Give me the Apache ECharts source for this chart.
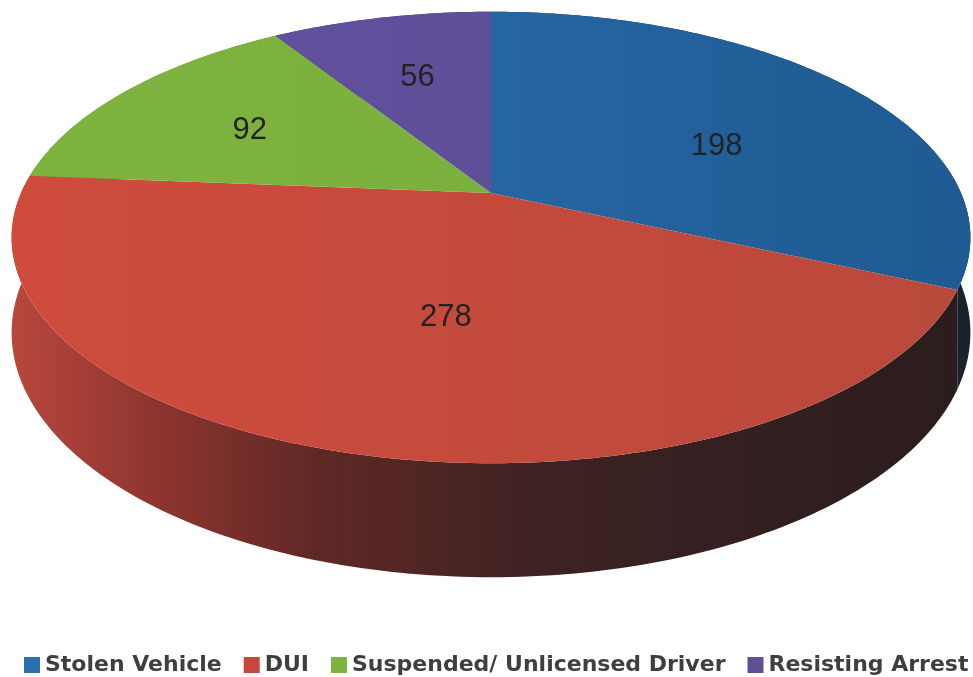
<!doctype html>
<html>
<head>
<meta charset="UTF-8">
<title>Arrests</title>
<script src="https://cdn.jsdelivr.net/npm/echarts@6/dist/echarts.min.js"></script>
<style>
  html, body { margin: 0; padding: 0; background: #fff; }
  #main { width: 973px; height: 677px; }
</style>
</head>
<body>
<div id="main"></div>
<script>
// data
var categories = ['Stolen Vehicle', 'DUI', 'Suspended/ Unlicensed Driver', 'Resisting Arrest'];
var counts = [198, 278, 92, 56];

// colours
var legendColors = ['#2C6FAE', '#C9463C', '#7DB33F', '#5F5096'];
var topColors = [
  ['#2B71B1', '#1F5A93'],
  ['#CF4C3D', '#B8493B'],
  ['#7EB43E', '#76AC3A'],
  ['#6352A0', '#5A4A90']
];
var sideColors = [
  ['#283548', '#1C222C'],
  ['#B8473C', '#2A1C1D'],
  ['#5E8A30', '#3E5A22'],
  ['#4A3E7A', '#332A55']
];

// pie layout (perspective tilt)
var CX = 491, CY = 193;     // centre point of the top face
var S = 470, T = 217;       // horizontal / depth radius
var A = 0.197;              // perspective factor
var H = 91.5;               // thickness

var total = counts.reduce(function (a, b) { return a + b; }, 0);
var startAngles = [];
var acc = 0;
counts.forEach(function (c) {
  startAngles.push(acc / total * Math.PI * 2);
  acc += c;
});

function project(theta, r, h) {
  var u = r * Math.sin(theta), v = r * Math.cos(theta);
  var d = 1 + A * v;
  return [CX + S * u / d, CY + (-T * v + h) / d];
}

function arc(a0, a1, h) {
  var pts = [];
  var n = Math.max(2, Math.ceil((a1 - a0) / (Math.PI / 180)));
  for (var i = 0; i <= n; i++) {
    pts.push(project(a0 + (a1 - a0) * i / n, 1, h));
  }
  return pts;
}

// label goes at the centre of mass of the visible top face
function centroid(pts) {
  var a = 0, cx = 0, cy = 0;
  for (var i = 0; i < pts.length; i++) {
    var p = pts[i], q = pts[(i + 1) % pts.length];
    var f = p[0] * q[1] - q[0] * p[1];
    a += f;
    cx += (p[0] + q[0]) * f;
    cy += (p[1] + q[1]) * f;
  }
  a = a / 2;
  return [cx / (6 * a), cy / (6 * a)];
}

function hGrad(c) {
  return new echarts.graphic.LinearGradient(12, 0, 971, 0, [
    { offset: 0, color: c[0] },
    { offset: 1, color: c[1] }
  ], true);
}

var redSide = new echarts.graphic.LinearGradient(12, 0, 971, 0, [
  { offset: 0, color: '#B8473C' },
  { offset: 0.15, color: '#8E352F' },
  { offset: 0.32, color: '#5F2825' },
  { offset: 0.55, color: '#3E2223' },
  { offset: 1, color: '#2A1C1D' }
], true);

function renderSlice(params, api) {
  var i = params.seriesIndex;
  var value = api.value(0);
  var a0 = startAngles[i];
  var a1 = a0 + value / total * Math.PI * 2;
  var topArc = arc(a0, a1, 0);
  var topPts = [[CX, CY]].concat(topArc);
  var sidePts = topArc.concat(arc(a0, a1, H).reverse());
  var c = centroid(topPts);
  return {
    type: 'group',
    children: [{
      type: 'polygon',
      z2: 1,
      shape: { points: sidePts },
      style: { fill: i === 1 ? redSide : hGrad(sideColors[i]) }
    }, {
      type: 'polygon',
      z2: 10,
      shape: { points: topPts },
      style: { fill: hGrad(topColors[i]) }
    }, {
      type: 'text',
      z2: 20,
      x: c[0],
      y: c[1],
      style: {
        text: String(value),
        fill: '#222',
        fontSize: 31,
        fontFamily: 'Liberation Sans',
        align: 'center',
        verticalAlign: 'middle'
      }
    }]
  };
}

var series = categories.map(function (name, i) {
  return {
    name: name,
    type: 'custom',
    coordinateSystem: 'none',
    itemStyle: { color: legendColors[i] },
    renderItem: renderSlice,
    data: [[counts[i]]]
  };
});

var myChart = echarts.init(document.getElementById('main'));
var option = {
  backgroundColor: '#fff',
  animation: false,
  legend: {
    data: categories,
    left: 24,
    top: 654,
    padding: 0,
    icon: 'rect',
    itemWidth: 16,
    itemHeight: 16,
    itemGap: 22,
    textStyle: {
      color: '#3F3F3F',
      fontSize: 22,
      fontWeight: 'bold',
      fontFamily: 'DejaVu Sans'
    }
  },
  series: series
};
myChart.setOption(option);
</script>
</body>
</html>
